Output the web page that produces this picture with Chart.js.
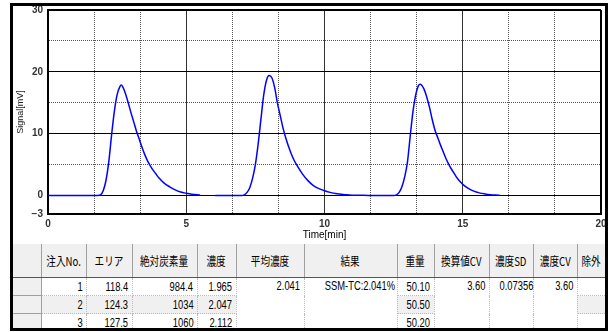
<!DOCTYPE html>
<html>
<head>
<meta charset="utf-8">
<script src="https://cdn.jsdelivr.net/npm/chart.js@4"></script>
<style>
  html, body { margin: 0; padding: 0; background: #fff; }
  body { width: 610px; height: 332px; position: relative; overflow: hidden; }
  #frame { position: absolute; left: 10px; top: 3px; width: 598px; height: 328px; box-sizing: border-box; border: 3px solid #000; overflow: hidden; }
  #plot { position: absolute; left: 0; top: 0; width: 592px; height: 238px; }
  #tbl { position: absolute; left: 0; top: 238px; border-collapse: collapse; table-layout: fixed; width: 593px;
         font-family: "Liberation Sans", "Noto Sans CJK JP", sans-serif; font-size: 12px; color: #000; }
  #tbl th { background: #f0f0f0; font-weight: normal; height: 33px; padding: 0; border-right: 1px solid #a0a0a0; border-bottom: 1px solid #555;
            font-family: "Noto Sans CJK JP", sans-serif; font-size: 12px; text-align: center; white-space: nowrap; }
  #tbl th span { display: inline-block; transform: scaleX(0.8); transform-origin: center; }
  #tbl td { height: 17px; padding: 0 3px 0 0; text-align: right; border-right: 1px dotted #bbb; border-bottom: 1px dotted #bbb;
            background: #fff; line-height: 16px; white-space: nowrap; }
  #tbl td span { display: inline-block; transform: scaleX(0.78); transform-origin: right center; }
  #tbl td.rh { background: #f0f0f0; border-right: 1px solid #a0a0a0; border-bottom: 1px solid #a0a0a0; }
  #tbl tr.alt td.sh { background: #f0f0f0; }
  #tbl td.merge { vertical-align: top; }
</style>
</head>
<body>
<div id="frame">
  <div id="plot"><canvas id="chart"></canvas></div>
  <table id="tbl"></table>
</div>
<script>
// ---- chromatogram traces (Time[min], Signal[mV]) ----
const peak1 = [
  [0, 0], [1.0, 0], [1.8, 0], [1.9, 0.1], [2.0, 0.8], [2.1, 2.5], [2.2, 5.5], [2.3, 9.8], [2.4, 13.6],
  [2.5, 16.3], [2.6, 17.6], [2.65, 17.85], [2.7, 17.6], [2.8, 16.5], [2.9, 15.0], [3.0, 13.4], [3.1, 11.9],
  [3.2, 10.4], [3.3, 9.1], [3.4, 7.8], [3.5, 6.6], [3.6, 5.6], [3.7, 4.8], [3.8, 4.1], [3.9, 3.5], [4.0, 2.9],
  [4.2, 2.0], [4.4, 1.4], [4.6, 0.9], [4.8, 0.55], [5.0, 0.35], [5.2, 0.2], [5.5, 0.08]
];
const peak2 = [
  [6.05, 0], [6.5, 0], [7.0, 0], [7.1, 0.1], [7.2, 0.5], [7.3, 1.3], [7.4, 2.8], [7.5, 5.0], [7.6, 8.3],
  [7.7, 12.3], [7.8, 16.2], [7.9, 18.6], [8.0, 19.4], [8.1, 19.0], [8.2, 17.4], [8.3, 14.9], [8.4, 12.9],
  [8.5, 10.9], [8.6, 9.3], [8.7, 7.9], [8.8, 6.7], [8.9, 5.7], [9.0, 4.9], [9.2, 3.5], [9.4, 2.4], [9.6, 1.6],
  [9.8, 1.1], [10.0, 0.75], [10.2, 0.5], [10.4, 0.3], [10.6, 0.2], [10.8, 0.1], [11.0, 0.05], [11.6, 0]
];
const peak3 = [
  [11.6, 0], [12.0, 0], [12.5, 0], [12.6, 0.1], [12.7, 0.5], [12.8, 1.4], [12.9, 3.0], [13.0, 5.4], [13.1, 9.6],
  [13.2, 13.6], [13.3, 16.3], [13.4, 17.8], [13.46, 18.0], [13.5, 17.9], [13.6, 17.2], [13.7, 15.9], [13.8, 14.2],
  [13.9, 12.2], [14.0, 10.5], [14.1, 9.3], [14.2, 8.1], [14.3, 7.0], [14.4, 5.9], [14.5, 5.0], [14.6, 4.2],
  [14.7, 3.5], [14.8, 2.8], [14.9, 2.25], [15.0, 1.8], [15.2, 1.15], [15.4, 0.7], [15.6, 0.42], [15.8, 0.25],
  [16.0, 0.13], [16.2, 0.06], [16.34, 0.03]
];

// ---- axes ----
const xGrid = [0, 1.667, 3.333, 5, 6.667, 8.333, 10, 11.667, 13.333, 15, 16.667, 18.333, 20];
const xMajor = [0, 5, 10, 15, 20];
const yGrid = [-3, 0, 5, 10, 15, 20, 25, 30];
const yLabels = { '-3': '\u22123', '0': '0', '10': '10', '20': '20', '30': '30' };

// ---- result table ----
const headers = ['', '注入No.', 'エリア', '絶対炭素量', '濃度', '平均濃度', '結果', '重量', '換算値CV', '濃度SD', '濃度CV', '除外'];
const colWidths = [28, 45, 46, 65, 39, 68, 93, 37, 55, 44, 44, 29];
const injNo   = ['1', '2', '3'];
const area    = ['118.4', '124.3', '127.5'];
const carbon  = ['984.4', '1034', '1060'];
const conc    = ['1.965', '2.047', '2.112'];
const weight  = ['50.10', '50.50', '50.20'];
const avgConc = '2.041';
const result  = 'SSM-TC:2.041%';
const cvConv  = '3.60';
const concSD  = '0.07356';
const concCV  = '3.60';

const sp = t => t ? `<span>${t}</span>` : '';

function buildTable() {
  let html = '<colgroup>' + colWidths.map(w => `<col style="width:${w}px">`).join('') + '</colgroup>';
  html += '<tr>' + headers.map(h => `<th>${sp(h)}</th>`).join('') + '</tr>';
  injNo.forEach((n, i) => {
    html += `<tr class="${i === 1 ? 'alt' : ''}"><td class="rh"></td>`;
    html += `<td class="sh">${sp(n)}</td><td class="sh">${sp(area[i])}</td><td class="sh">${sp(carbon[i])}</td><td class="sh">${sp(conc[i])}</td>`;
    if (i === 0) {
      html += `<td class="merge" rowspan="3">${sp(avgConc)}</td><td class="merge" rowspan="3">${sp(result)}</td>`;
    }
    html += `<td class="sh">${sp(weight[i])}</td>`;
    if (i === 0) {
      html += `<td class="merge" rowspan="3">${sp(cvConv)}</td><td class="merge" rowspan="3">${sp(concSD)}</td><td class="merge" rowspan="3">${sp(concCV)}</td>`;
    }
    html += `<td class="sh"></td></tr>`;
  });
  document.getElementById('tbl').innerHTML = html;
}
buildTable();

const isMajorX = v => xMajor.some(m => Math.abs(m - v) < 1e-6);
const isMajorY = v => v % 10 === 0 || v === -3;
const tickFont = { family: 'Liberation Sans', size: 10, weight: 'bold' };

const trace = (pts) => ({
  data: pts.map(p => ({ x: p[0], y: p[1] })),
  borderColor: '#0000ff',
  borderWidth: 1.5,
  pointRadius: 0,
  cubicInterpolationMode: 'monotone',
  fill: false,
});

new Chart(document.getElementById('chart'), {
  type: 'line',
  data: { datasets: [trace(peak1), trace(peak2), trace(peak3)] },
  options: {
    responsive: true, maintainAspectRatio: false, animation: false,
    layout: { padding: { top: 4, right: 4, left: 0, bottom: 0 } },
    plugins: { legend: { display: false }, tooltip: { enabled: false } },
    scales: {
      x: {
        type: 'linear', min: 0, max: 20,
        afterBuildTicks: s => { s.ticks = xGrid.map(v => ({ value: v })); },
        afterFit: s => { s.height = 30; s.paddingLeft = 0; s.paddingRight = 0; },
        ticks: {
          autoSkip: false, maxRotation: 0, padding: 4, color: '#333', font: tickFont,
          callback: v => isMajorX(v) ? String(Math.round(v)) : '',
        },
        grid: {
          drawTicks: false,
          color: c => (c.tick && (c.tick.value === 0 || c.tick.value === 20)) ? '#000' : (c.tick && isMajorX(c.tick.value) ? '#333' : '#555'),
          lineWidth: c => (c.tick && (c.tick.value === 0 || c.tick.value === 20)) ? 2 : 1,
        },
        border: { color: '#000', width: 2, dash: c => (c.tick && !isMajorX(c.tick.value)) ? [1, 1] : [] },
        title: { display: true, text: 'Time[min]', color: '#000', font: { family: 'Liberation Sans', size: 10 }, padding: { top: 0, bottom: 3 } },
      },
      y: {
        type: 'linear', min: -3, max: 30,
        afterBuildTicks: s => { s.ticks = yGrid.map(v => ({ value: v })); },
        afterFit: s => { s.width = 35; s.paddingTop = 0; s.paddingBottom = 0; },
        ticks: {
          autoSkip: false, padding: 5, color: '#333', font: tickFont,
          callback: v => yLabels[String(v)] || '',
        },
        grid: {
          drawTicks: false,
          color: c => (c.tick && isMajorY(c.tick.value)) ? '#000' : '#555',
          lineWidth: c => (c.tick && (c.tick.value === -3 || c.tick.value === 30)) ? 2 : 1,
        },
        border: { color: '#000', width: 2, dash: c => (c.tick && !isMajorY(c.tick.value)) ? [1, 1] : [] },
        title: { display: true, text: 'Signal[mV]', color: '#222', font: { family: 'Liberation Sans', size: 9 }, padding: { top: 2, bottom: 0 } },
      },
    },
  },
});
</script>
</body>
</html>
